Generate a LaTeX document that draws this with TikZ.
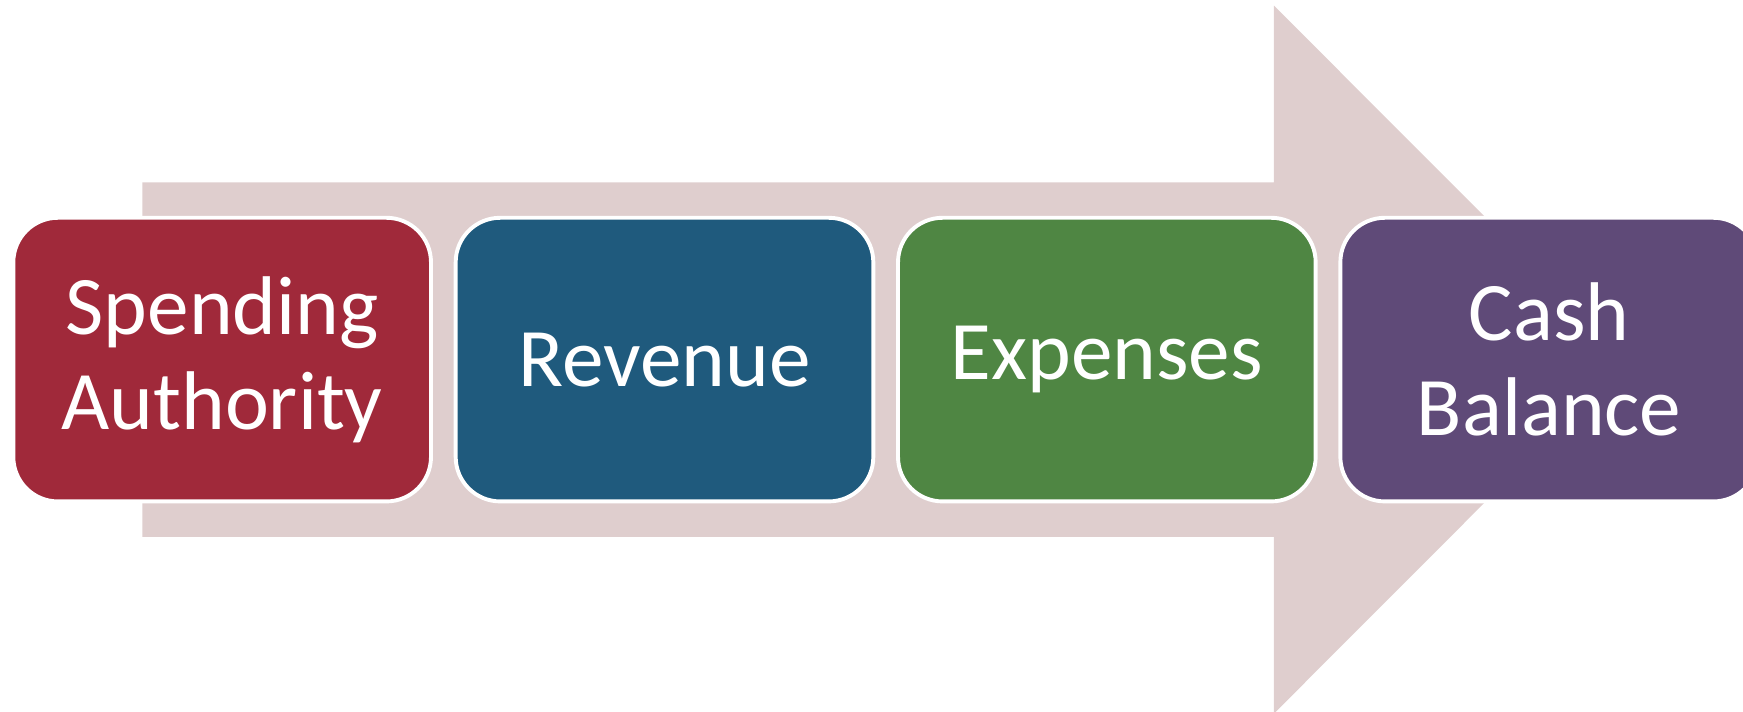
\documentclass[tikz,border=0pt]{standalone}
\usepackage{fontspec}
\setmainfont{Carlito}
\usepackage{tikz}
\usetikzlibrary{positioning}

\definecolor{flowbg}{HTML}{DFCECE}
\definecolor{stepred}{HTML}{A0293A}
\definecolor{stepblue}{HTML}{1F5A7D}
\definecolor{stepgreen}{HTML}{4F8643}
\definecolor{steppurple}{HTML}{5F4A78}

\tikzset{
  stage/.style={rectangle, rounded corners=0.4cm, draw=white, line width=1pt,
    outer sep=0pt, minimum width=3.755cm, minimum height=2.55cm, align=center,
    text=white, font=\fontsize{21.3}{24.2}\selectfont},
}

\begin{document}
\begin{tikzpicture}[x=0.01cm, y=-0.01cm, node distance=0.222cm]
    \useasboundingbox (0,0) rectangle (1568,640);

    % background arrow
    \fill[flowbg] (128,164) -- (1146,164) -- (1146,5) -- (1464,323.5)
        -- (1146,642) -- (1146,483) -- (128,483) -- cycle;

    \node (SA) [stage, fill=stepred, anchor=west] at (12,323.5) {Spending\\Authority};
    \node (RV) [stage, fill=stepblue, right=of SA] {Revenue};
    \node (EX) [stage, fill=stepgreen, right=of RV] {Expenses};
    \node (CB) [stage, fill=steppurple, right=of EX] {Cash\\Balance};

\end{tikzpicture}
\end{document}
